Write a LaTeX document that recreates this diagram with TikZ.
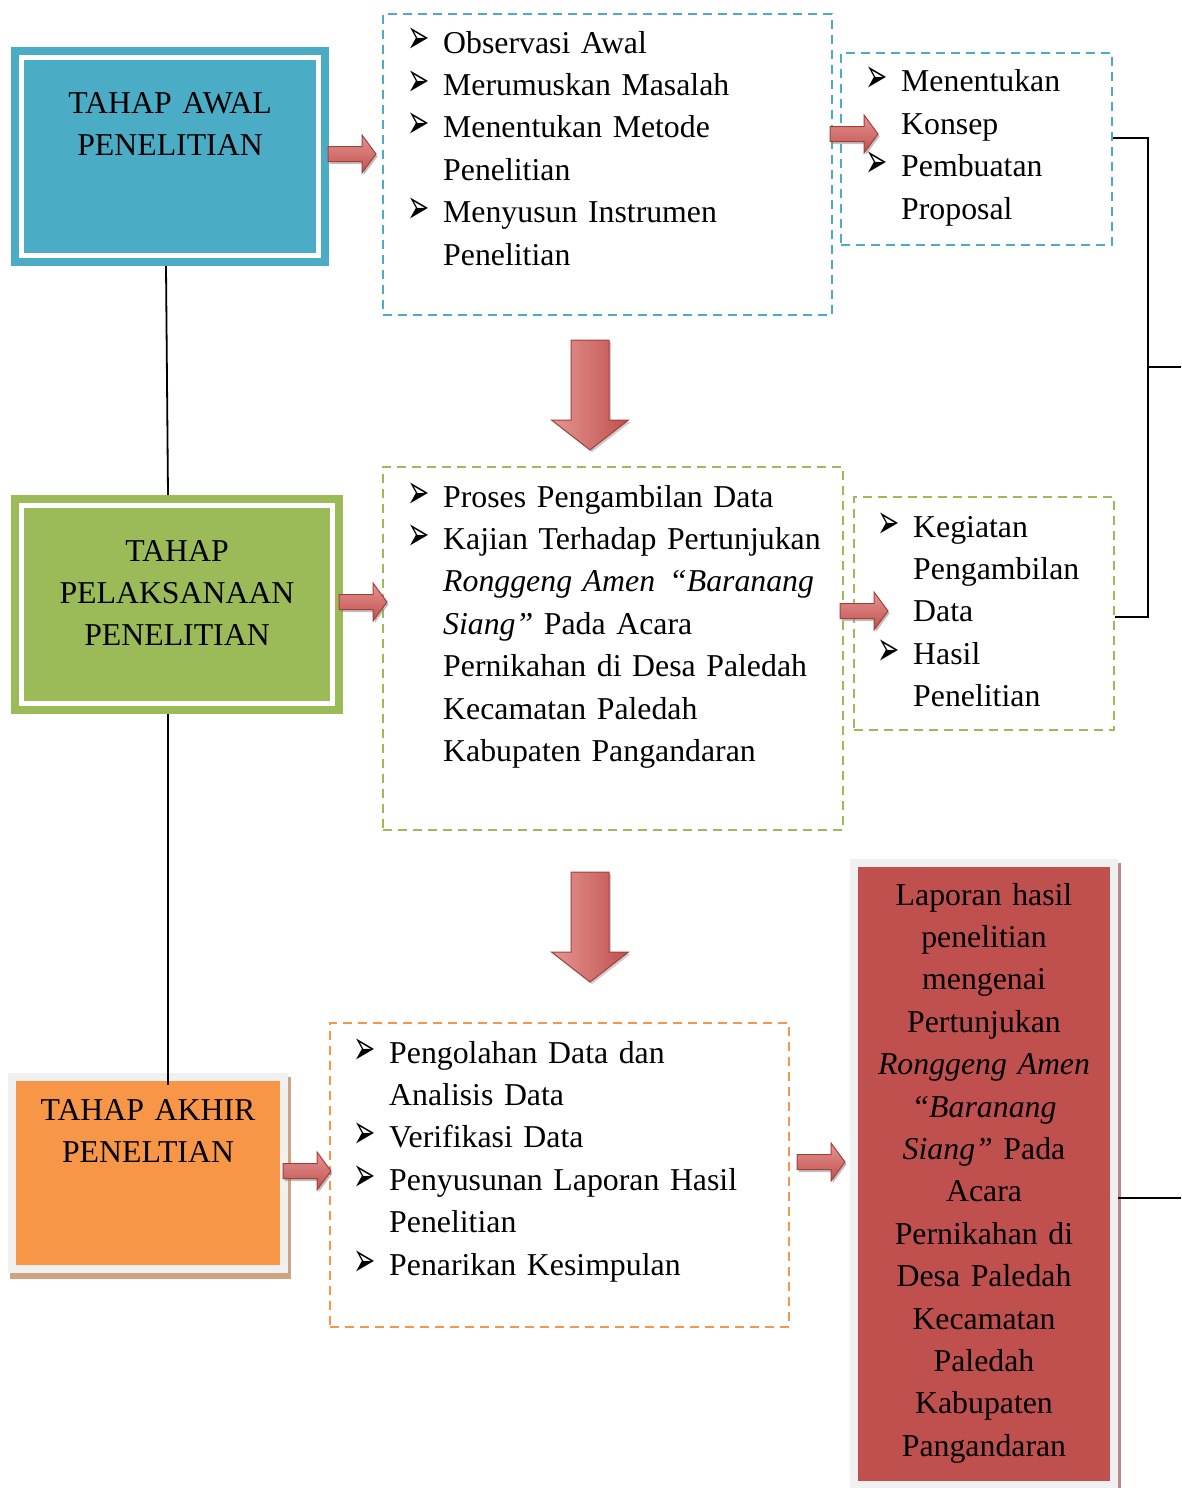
\documentclass[tikz,border=0pt]{standalone}
\usepackage{fontspec}
\usepackage{graphicx}
\setmainfont{Liberation Serif}
\newfontfamily\dingfont{DejaVu Sans}
\usetikzlibrary{calc,shadows}

\definecolor{awalteal}{HTML}{4BACC6}
\definecolor{laksgreen}{HTML}{9BBB59}
\definecolor{akhirorange}{HTML}{F79646}
\definecolor{lapred}{HTML}{C0504D}
\definecolor{framegray}{HTML}{F0F0F0}
\definecolor{tanshadow}{HTML}{CFA37F}
\definecolor{redshadow}{HTML}{B88A8A}
\definecolor{arrowlight}{HTML}{E59693}
\definecolor{arrowdark}{HTML}{A33F3C}

\newcommand{\bul}{\makebox[36pt][l]{\raisebox{-1pt}{\scalebox{0.72}[1.3]{\dingfont\fontsize{37}{37}\selectfont ➢}}}}
\newcommand{\ind}{\hspace*{36pt}}

\begin{document}
\begin{tikzpicture}[
  x=1pt, y=-1pt,
  every node/.style={font=\fontsize{31.8}{42.4}\selectfont, inner sep=0pt},
  stage/.style={fill=#1, path picture={
    \draw[white, line width=5pt]
      ([shift={(10.5pt,-10.5pt)}]path picture bounding box.north west) rectangle
      ([shift={(-10.5pt,10.5pt)}]path picture bounding box.south east);}},
  framed/.style={fill=#1, draw=framegray, line width=8pt},
  dbox/.style={draw=#1, dash pattern=on 9pt off 6pt, line width=2.2pt},
  list/.style={anchor=base west, align=left, text width=#1},
  title/.style={anchor=base, align=center, text width=#1},
  link/.style={line width=1.8pt},
  rblock/.style={top color=arrowlight, bottom color=lapred, draw=arrowdark, line width=1pt,
    drop shadow={opacity=0.5, shadow xshift=1.5pt, shadow yshift=-2.5pt}},
  dblock/.style={left color=arrowlight, right color=lapred, draw=arrowdark, line width=1pt,
    drop shadow={opacity=0.4, shadow xshift=2pt, shadow yshift=-2pt}},
  pics/rarrow/.style={code={
    \draw[rblock] (0,-7.5) -- (34,-7.5) -- (34,-19) -- (48,0) -- (34,19) -- (34,7.5) -- (0,7.5) -- cycle;}},
  pics/darrow/.style={code={
    \draw[dblock] (-19,0) -- (19,0) -- (19,80) -- (38.5,80) -- (0,110) -- (-38.5,80) -- (-19,80) -- cycle;}}
]
  \useasboundingbox (0,0) rectangle (1181,1488);

  % Tahap boxes
  \node[stage=awalteal, minimum width=318pt, minimum height=219pt] (awal) at (170,156.5) {};
  \node[title=300pt] (awaltxt) at (170,113) {TAHAP AWAL\\PENELITIAN};

  \node[stage=laksgreen, minimum width=332pt, minimum height=219pt] (laks) at (177,604.5) {};
  \node[title=320pt] (lakstxt) at (177,561) {TAHAP\\PELAKSANAAN\\PENELITIAN};

  \fill[tanshadow] (10,1077) rectangle (291,1279);
  \node[framed=akhirorange, minimum width=272pt, minimum height=192pt] (akhir) at (147.5,1172.5) {};
  \node[title=260pt] (akhirtxt) at (148,1120) {TAHAP AKHIR\\PENELTIAN};

  % Dashed lists
  \node[dbox=awalteal, minimum width=449pt, minimum height=301pt] (awaldaftar) at (607.5,164.5) {};
  \node[list=420pt] (awalisi) at (407,53) {\bul Observasi Awal\\
    \bul Merumuskan Masalah\\
    \bul Menentukan Metode\\
    \ind Penelitian\\
    \bul Menyusun Instrumen\\
    \ind Penelitian};

  \node[dbox=awalteal, minimum width=271pt, minimum height=192pt] (konsep) at (976.5,149) {};
  \node[list=240pt] (konsepisi) at (865,92) {\bul Menentukan\\
    \ind Konsep\\
    \bul Pembuatan\\
    \ind Proposal};

  \node[dbox=laksgreen, minimum width=460pt, minimum height=363pt] (laksdaftar) at (613,648.5) {};
  \node[list=440pt] (laksisi) at (407,507) {\bul Proses Pengambilan Data\\
    \bul Kajian Terhadap Pertunjukan\\
    \ind \textit{Ronggeng Amen}\hspace{14pt}\textit{“Baranang}\\
    \ind \textit{Siang”} Pada Acara\\
    \ind Pernikahan di Desa Paledah\\
    \ind Kecamatan Paledah\\
    \ind Kabupaten Pangandaran};

  \node[dbox=laksgreen, minimum width=260pt, minimum height=233pt] (hasil) at (984,613.5) {};
  \node[list=230pt] (hasilisi) at (877,537) {\bul Kegiatan\\
    \ind Pengambilan\\
    \ind Data\\
    \bul Hasil\\
    \ind Penelitian};

  \node[dbox=akhirorange, minimum width=459pt, minimum height=304pt] (akhirdaftar) at (559.5,1175) {};
  \node[list=430pt] (akhirisi) at (353,1063) {\bul Pengolahan Data dan\\
    \ind Analisis Data\\
    \bul Verifikasi Data\\
    \bul Penyusunan Laporan Hasil\\
    \ind Penelitian\\
    \bul Penarikan Kesimpulan};

  % Laporan
  \fill[redshadow] (1118,863) rectangle (1121,1488);
  \node[framed=lapred, minimum width=260pt, minimum height=622pt] (laporan) at (984,1174) {};
  \node[title=252pt] (laporantxt) at (984,905) {Laporan hasil\\
    penelitian\\
    mengenai\\
    Pertunjukan\\
    \textit{Ronggeng Amen}\\
    \textit{“Baranang}\\
    \textit{Siang”} Pada\\
    Acara\\
    Pernikahan di\\
    Desa Paledah\\
    Kecamatan\\
    Paledah\\
    Kabupaten\\
    Pangandaran};

  % Block arrows
  \pic at (328,154) {rarrow};
  \pic at (830,134) {rarrow};
  \pic at (339,602) {rarrow};
  \pic at (840,611) {rarrow};
  \pic at (283,1171) {rarrow};
  \pic at (797,1162) {rarrow};
  \pic at (590,340) {darrow};
  \pic at (590,872) {darrow};

  % Lines
  \coordinate (brace) at (1148,367);
  \coordinate (keluar1) at (1181,367);
  \coordinate (keluar2) at (1181,1198);
  \draw[link] ([xshift=-4pt]awal.south) -- ([xshift=-9pt]laks.north);
  \draw[link] ([xshift=-9pt]laks.south) -- ([xshift=20.5pt,yshift=-12pt]akhir.north);
  \draw[link] ([yshift=11pt]konsep.east) -| (brace) |- ([yshift=-3.5pt]hasil.east);
  \draw[link] (brace) -- (keluar1);
  \draw[link] (laporan.east |- keluar2) -- (keluar2);
\end{tikzpicture}
\end{document}
